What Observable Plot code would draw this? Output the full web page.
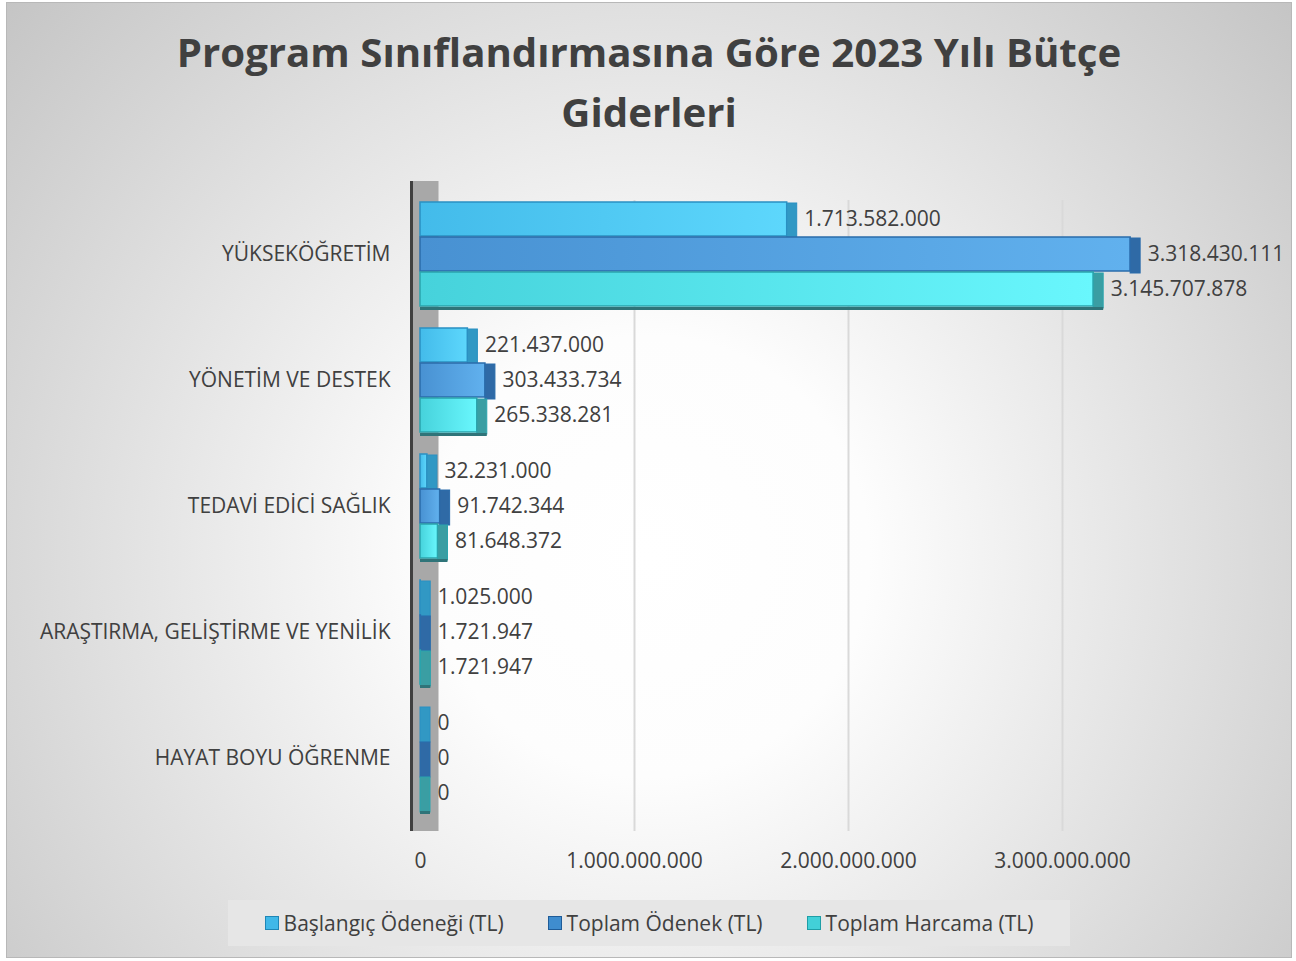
<!DOCTYPE html>
<html>
<head>
<meta charset="utf-8">
<script src="https://cdn.jsdelivr.net/npm/d3@7"></script>
<script src="https://cdn.jsdelivr.net/npm/@observablehq/plot@0.6"></script>
<style>
  html, body { margin: 0; padding: 0; background: #ffffff; }
  body { width: 1296px; height: 961px; position: relative; overflow: hidden; font-family: "Open Sans", sans-serif; }
  #frame {
    position: absolute; left: 6px; top: 2px; width: 1284px; height: 954px;
    border: 1px solid #b8b8b8;
    background: radial-gradient(circle farthest-corner at 50% 58%, #ffffff 0%, #fdfdfd 26%, #c5c5c5 100%);
  }
  #title {
    position: absolute; left: 6px; top: 22px; width: 1286px; text-align: center;
    font-family: "Open Sans", sans-serif; font-weight: 700; font-size: 40.2px; line-height: 60px; color: #404040;
  }
  #chart { position: absolute; left: 0; top: 0; }
  #legend {
    position: absolute; left: 228px; top: 900px; width: 842px; height: 46px;
    background: #e6e6e6; display: flex; align-items: center; justify-content: center; gap: 44px;
    font-family: "Open Sans", sans-serif; font-size: 21px; color: #404040;
  }
  .item { display: flex; align-items: center; gap: 5px; }
  .sw { width: 12px; height: 12px; border: 1.5px solid; }
</style>
</head>
<body>
<div id="frame"></div>
<div id="chart"></div>
<div id="title">Program Sınıflandırmasına Göre 2023 Yılı Bütçe<br>Giderleri</div>
<div id="legend"></div>
<script>
// ---- data ----
const categories = ["YÜKSEKÖĞRETİM", "YÖNETİM VE DESTEK", "TEDAVİ EDİCİ SAĞLIK", "ARAŞTIRMA, GELİŞTİRME VE YENİLİK", "HAYAT BOYU ÖĞRENME"];
const series = ["Başlangıç Ödeneği (TL)", "Toplam Ödenek (TL)", "Toplam Harcama (TL)"];
const baslangicOdenegi = [1713582000, 221437000, 32231000, 1025000, 0];
const toplamOdenek = [3318430111, 303433734, 91742344, 1721947, 0];
const toplamHarcama = [3145707878, 265338281, 81648372, 1721947, 0];
const xTicks = [0, 1000000000, 2000000000, 3000000000];

const seriesValues = [baslangicOdenegi, toplamOdenek, toplamHarcama];
const frontColors = ["url(#g1)", "url(#g2)", "url(#g3)"];
const strokeColors = ["#2a90c2", "#2a6cab", "#2aa4ad"];
const sideColors = ["#3198c4", "#2f6aa6", "#3a9ea3"];
const swatchFill = ["#40b8e8", "#3f8dcf", "#42d0d8"];
const swatchStroke = ["#1f86b6", "#1f5c98", "#1f9ea6"];

const tr = d3.formatLocale({decimal: ",", thousands: ".", grouping: [3], currency: ["", "₺"]});
const fmt = tr.format(",d");

const bw = 105;           // band width in px (from scale padding settings below)
const third = bw / 3;

const tables = seriesValues.map((vals, s) =>
  categories.map((c, i) => ({category: c, value: vals[i], series: series[s]}))
);

function defs() {
  const ns = "http://www.w3.org/2000/svg";
  const d = document.createElementNS(ns, "defs");
  const stops = [["g1", "#43bbea", "#5dd7fc"], ["g2", "#4891d2", "#61b1ee"], ["g3", "#46d2db", "#69f7fd"]];
  for (const [id, a, b] of stops) {
    const g = document.createElementNS(ns, "linearGradient");
    g.setAttribute("id", id);
    g.setAttribute("x1", "0"); g.setAttribute("x2", "1"); g.setAttribute("y1", "0"); g.setAttribute("y2", "0");
    for (const [off, col] of [["0", a], ["1", b]]) {
      const st = document.createElementNS(ns, "stop");
      st.setAttribute("offset", off); st.setAttribute("stop-color", col);
      g.appendChild(st);
    }
    d.appendChild(g);
  }
  return d;
}

const marks = [
  defs,
  // back gridlines
  Plot.ruleX(xTicks.slice(1), {stroke: "#d9d9d9", strokeWidth: 2, insetTop: 19}),
  // side wall
  Plot.ruleX([0], {stroke: "#a8a8a8", strokeWidth: 26, dx: 5}),
  Plot.ruleX([0], {stroke: "#404040", strokeWidth: 3, dx: -9}),
];

seriesValues.forEach((vals, s) => {
  const insetTop = s * third;
  const insetBottom = (2 - s) * third;
  marks.push(
    Plot.barX(tables[s], {
      y: "category", x1: 0, x2: "value",
      fill: frontColors[s], stroke: strokeColors[s], strokeWidth: 1.5,
      insetTop, insetBottom
    }),
    Plot.barX(tables[s], {
      y: "category", x1: "value", x2: "value",
      fill: sideColors[s], stroke: strokeColors[s], strokeWidth: 1,
      insetTop: insetTop + 1, insetBottom: insetBottom - 2, insetRight: -10
    })
  );
});
// bottom shadow face under the last bar of each group
marks.push(
  Plot.barX(tables[2], {
    y: "category", x1: 0, x2: "value", fill: "#2f7479",
    insetTop: bw, insetBottom: -4, insetRight: -10
  })
);
// value labels
seriesValues.forEach((vals, s) => {
  marks.push(
    Plot.text(tables[s], {
      y: "category", x: "value", text: d => fmt(d.value),
      dx: 17, dy: (s - 1) * third, textAnchor: "start",
      fontSize: 21, fill: "#404040"
    })
  );
});
marks.push(
  Plot.axisY({tickSize: 0, tickPadding: 30, fontSize: 21, label: null, fill: "#404040"}),
  Plot.axisX({ticks: xTicks, tickFormat: fmt, tickSize: 0, tickPadding: 22, fontSize: 21, label: null, fill: "#404040"})
);

const chart = Plot.plot({
  width: 1296,
  height: 961,
  marginTop: 181,
  marginBottom: 130,
  marginLeft: 420,
  marginRight: 127,
  style: {background: "transparent", fontFamily: "Open Sans", color: "#404040", overflow: "visible"},
  x: {domain: [0, 3500000000], axis: null},
  y: {domain: categories, paddingInner: 0.1716, paddingOuter: 0.15, axis: null},
  marks
});
document.getElementById("chart").appendChild(chart);

// legend
const legend = document.getElementById("legend");
series.forEach((name, s) => {
  const item = document.createElement("div");
  item.className = "item";
  const sw = document.createElement("div");
  sw.className = "sw";
  sw.style.background = swatchFill[s];
  sw.style.borderColor = swatchStroke[s];
  const t = document.createElement("span");
  t.textContent = name;
  item.appendChild(sw); item.appendChild(t);
  legend.appendChild(item);
});
</script>
</body>
</html>
